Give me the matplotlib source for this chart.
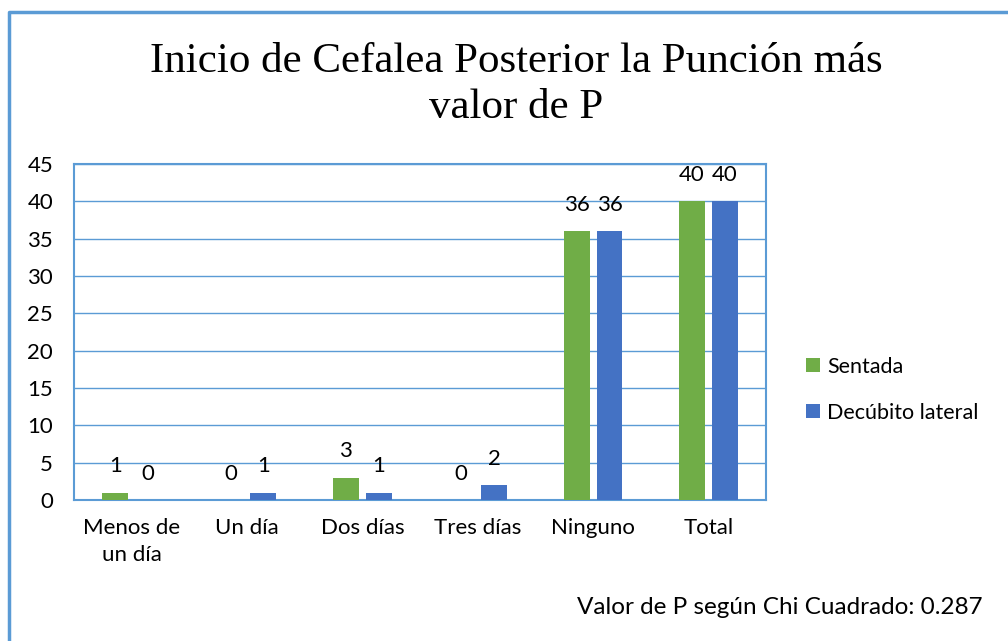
import matplotlib.pyplot as plt
import numpy as np
from matplotlib.lines import Line2D

# data
categorias = ["Menos de\nun día", "Un día", "Dos días", "Tres días", "Ninguno", "Total"]
sentada = [1, 0, 3, 0, 36, 40]
decubito = [0, 1, 1, 2, 36, 40]
yticks = [0, 5, 10, 15, 20, 25, 30, 35, 40, 45]

verde = "#70AD47"
azul = "#4472C4"
borde = "#5B9BD5"
fuente = "Lato"
fs = 16

fig = plt.figure(figsize=(10.08, 6.41), dpi=100)
ax = fig.add_axes([0.0734, 0.2200, 0.6866, 0.5241])

x = np.arange(len(categorias))
w = 0.225
off = 0.1425
b1 = ax.bar(x - off, sentada, w, color=verde, label="Sentada", zorder=3)
b2 = ax.bar(x + off, decubito, w, color=azul, label="Decúbito lateral", zorder=3)

# etiquetas de datos
for bars, vals in ((b1, sentada), (b2, decubito)):
    for b, v in zip(bars, vals):
        ax.annotate(str(v), (b.get_x() + b.get_width() / 2, v),
                    xytext=(0, 19), textcoords="offset points",
                    ha="center", va="center", fontsize=fs, family=fuente)

ax.set_xlim(-0.5, len(categorias) - 0.5)
ax.set_ylim(0, 45)
ax.set_yticks(yticks)
ax.set_xticks(x)
ax.set_xticklabels(categorias, fontsize=fs, family=fuente, linespacing=1.45)
ax.tick_params(axis="both", length=0)
ax.tick_params(axis="y", pad=15, labelsize=fs)
ax.tick_params(axis="x", pad=13)
for lab in ax.get_yticklabels():
    lab.set_family(fuente)

ax.grid(axis="y", color=borde, linewidth=1, zorder=0)
for s in ax.spines.values():
    s.set_color(borde)
    s.set_linewidth(1.5)

fig.text(0.512, 0.868, "Inicio de Cefalea Posterior la Punción más\nvalor de P",
         ha="center", va="center", fontsize=31, family="Liberation Serif",
         linespacing=1.27)

ax.legend(loc="center left", bbox_to_anchor=(0.78, 0.392),
          bbox_transform=fig.transFigure, frameon=False,
          prop={"family": fuente, "size": fs - 0.5}, handlelength=0.65,
          handleheight=0.65, handletextpad=0.35, labelspacing=1.2)

fig.text(0.975, 0.053, "Valor de P según Chi Cuadrado: 0.287",
         ha="right", va="center", fontsize=fs + 1.5, family=fuente)

# borde del gráfico
px, py = 9 / 1008, 1 - 12 / 641
fig.add_artist(Line2D([px, px, 1.01], [-0.01, py, py], transform=fig.transFigure,
                      color=borde, linewidth=2.5))

fig.savefig("out.png", dpi=100)
